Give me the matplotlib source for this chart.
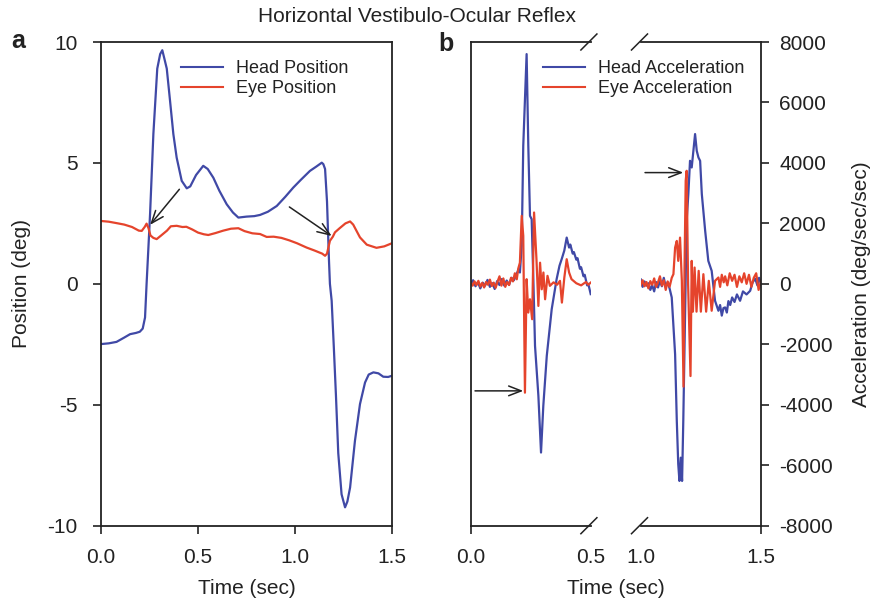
import matplotlib
matplotlib.use("Agg")
import matplotlib.pyplot as plt
from matplotlib.lines import Line2D

plt.rcParams['font.family'] = ['Liberation Sans', 'DejaVu Sans']
plt.rcParams['axes.unicode_minus'] = False

# ---------------- data: panel a (position, deg) ----------------
head_pos_t = [0.00, 0.04, 0.08, 0.12, 0.15, 0.18, 0.20, 0.215, 0.227, 0.235, 0.245, 0.253,
              0.27, 0.29, 0.305, 0.316, 0.327, 0.339, 0.356, 0.373, 0.39, 0.416, 0.442, 0.46,
              0.49, 0.527, 0.55, 0.579, 0.61, 0.648, 0.68, 0.708, 0.75, 0.79, 0.82, 0.86,
              0.906, 0.95, 0.991, 1.03, 1.077, 1.11, 1.138, 1.146, 1.155, 1.165, 1.175, 1.18,
              1.189, 1.20, 1.211, 1.223, 1.24, 1.258, 1.27, 1.284, 1.309, 1.335, 1.361, 1.38,
              1.404, 1.43, 1.455, 1.48, 1.5]
head_pos = [-2.49, -2.46, -2.40, -2.22, -2.08, -2.03, -1.98, -1.85, -1.39, 0.0, 1.6, 2.9,
            6.2, 8.9, 9.5, 9.66, 9.3, 8.9, 7.56, 6.19, 5.22, 4.26, 3.95, 4.03,
            4.5, 4.88, 4.75, 4.39, 3.85, 3.29, 2.95, 2.74, 2.78, 2.80, 2.85, 2.98,
            3.22, 3.6, 3.98, 4.3, 4.67, 4.85, 5.01, 4.95, 4.75, 3.4, 1.0, 0.0,
            -0.7, -2.6, -4.6, -7.0, -8.7, -9.24, -9.0, -8.42, -6.49, -4.97, -4.08, -3.75,
            -3.66, -3.70, -3.84, -3.85, -3.80]

eye_pos_t = [0.00, 0.04, 0.081, 0.12, 0.16, 0.195, 0.21, 0.225, 0.235, 0.245, 0.255, 0.27,
             0.287, 0.31, 0.34, 0.36, 0.39, 0.42, 0.44, 0.47, 0.50, 0.53, 0.553, 0.59, 0.63,
             0.67, 0.708, 0.74, 0.78, 0.82, 0.854, 0.89, 0.93, 0.97, 1.01, 1.06, 1.10, 1.14,
             1.155, 1.165, 1.18, 1.195, 1.206, 1.23, 1.26, 1.284, 1.30, 1.335, 1.37, 1.42,
             1.46, 1.5]
eye_pos = [2.60, 2.57, 2.51, 2.45, 2.35, 2.20, 2.19, 2.35, 2.49, 2.3, 2.0, 1.9,
           1.85, 2.0, 2.2, 2.38, 2.40, 2.35, 2.36, 2.25, 2.12, 2.05, 2.02, 2.10, 2.20,
           2.28, 2.30, 2.18, 2.09, 2.06, 1.94, 1.95, 1.90, 1.80, 1.68, 1.50, 1.38, 1.25,
           1.16, 1.25, 1.78, 1.95, 2.13, 2.3, 2.5, 2.58, 2.45, 1.92, 1.62, 1.49,
           1.55, 1.68]

# ---------------- data: panel b (acceleration, deg/sec/sec) ----------------
# first segment 0.0 - 0.5 s
head_acc1_t = [0.000, 0.010, 0.020, 0.030, 0.040, 0.050, 0.060, 0.070, 0.080, 0.090, 0.100,
               0.110, 0.120, 0.130, 0.140, 0.150, 0.160, 0.170, 0.180, 0.190, 0.198, 0.205,
               0.2125, 0.219, 0.233, 0.24, 0.247, 0.254, 0.261, 0.268, 0.282, 0.293, 0.3025,
               0.317, 0.3375, 0.358, 0.37, 0.379, 0.39, 0.40, 0.41, 0.415, 0.425, 0.43, 0.44,
               0.445, 0.455, 0.46, 0.47, 0.475, 0.485, 0.49, 0.5]
head_acc1 = [0, 120, -80, 60, -150, 40, -60, 130, -100, 20, -170,
             90, -40, 160, -60, 110, -30, 200, 120, 300, 450, 375,
             1260, 4570, 7600, 4570, 2250, 2140, 155, -2050, -3700, -5580, -4040,
             -2380, -840, 155, 600, 815, 1100, 1530, 1200, 1300, 1000, 1050, 800,
             850, 500, 550, 250, 300, -50, 0, -340]

eye_acc1_t = [0.000, 0.008, 0.016, 0.024, 0.032, 0.040, 0.048, 0.056, 0.064, 0.072, 0.080,
              0.088, 0.096, 0.104, 0.112, 0.120, 0.128, 0.136, 0.144, 0.152, 0.160, 0.168,
              0.176, 0.184, 0.192, 0.198, 0.205, 0.2125, 0.219, 0.226, 0.233, 0.24, 0.247,
              0.256, 0.264, 0.274, 0.282, 0.289, 0.296, 0.303, 0.31, 0.32, 0.33, 0.345,
              0.36, 0.372, 0.38, 0.39, 0.40, 0.41, 0.42, 0.44, 0.46, 0.48, 0.49, 0.5]
eye_acc1 = [50, -60, 80, -40, 100, -90, 30, -120, 60, -30, 140,
            -70, 40, -130, 80, 250, -60, 180, -100, 60, -40, 200,
            80, 350, 150, 500, 700, 2250, 1590, -3600, 155, -950, -510,
            -1170, 2360, 815, -730, 700, -180, 375, -510, 265, -66, 50,
            -30, 100, -620, 200, 815, 375, 155, 20, -50, 60, -30, 40]

# second segment 1.0 - 1.5 s
head_acc2_t = [1.000, 1.008, 1.016, 1.024, 1.032, 1.040, 1.048, 1.056, 1.064, 1.072, 1.080,
               1.088, 1.096, 1.104, 1.112, 1.120, 1.129, 1.143, 1.150, 1.156, 1.161, 1.1665,
               1.172, 1.177, 1.184, 1.191, 1.198, 1.205, 1.212, 1.219, 1.226, 1.233, 1.240,
               1.247, 1.254, 1.268, 1.281, 1.295, 1.309, 1.323, 1.330, 1.337, 1.344, 1.351,
               1.358, 1.3645, 1.372, 1.38, 1.39, 1.40, 1.413, 1.425, 1.44, 1.455, 1.465,
               1.476, 1.485, 1.492, 1.5]
head_acc2 = [150, -100, 80, -60, 20, -200, -50, -250, 60, -120, 100,
             -80, 200, -100, 50, -150, -450, -2330, -4530, -5960, -6520, -5750,
             -6520, -4530, -1220, 2085, 2970, 4070, 3850, 4400, 4955, 4400, 4180,
             4070, 2970, 1750, 760, 430, -560, -890, -700, -1050, -800, -780,
             -950, -570, -700, -450, -600, -350, -560, -250, -350, -230, 50,
             170, -50, 200, 0]

eye_acc2_t = [1.000, 1.008, 1.016, 1.024, 1.032, 1.040, 1.048, 1.056, 1.064, 1.072, 1.080,
              1.088, 1.096, 1.104, 1.112, 1.120, 1.129, 1.136, 1.143, 1.150, 1.156, 1.1635,
              1.171, 1.178, 1.182, 1.187, 1.191, 1.197, 1.207, 1.212, 1.217, 1.224, 1.232,
              1.241, 1.250, 1.2605, 1.272, 1.283, 1.295, 1.309, 1.323, 1.33, 1.337, 1.345,
              1.351, 1.36, 1.37, 1.38, 1.39, 1.40, 1.41, 1.42, 1.43, 1.44, 1.45, 1.46,
              1.47, 1.48, 1.49, 1.5]
eye_acc2 = [-50, 120, -80, 60, -150, 90, -30, 180, -100, 50, 250,
            -60, 120, -200, 80, -100, 200, 320, 1200, 1420, 760, 1530,
            100, -3400, 430, 3410, 3740, 0, -3050, 760, -920, 540, -920,
            430, -920, 320, -920, 100, -890, 100, 210, -100, 300, 50,
            250, -50, 350, 100, 300, -100, 250, 50, 350, 0, 300, -100,
            200, 350, -200, 100]

pos_ticks = [-10, -5, 0, 5, 10]
acc_ticks = [-8000, -6000, -4000, -2000, 0, 2000, 4000, 6000, 8000]
time_ticks_a = [0.0, 0.5, 1.0, 1.5]

BLUE = '#4049a6'
RED = '#e5442c'
TXT = '#222222'
LW = 1.6

W, H = 874, 602
fig = plt.figure(figsize=(W / 100, H / 100), dpi=100)


def rect(l, r, t, b):
    return [l / W, 1 - b / H, (r - l) / W, (b - t) / H]


TOP, BOT = 42, 525.7
ax_a = fig.add_axes(rect(101, 392, TOP, BOT))
ax_b1 = fig.add_axes(rect(470.7, 590.7, TOP, BOT))
ax_b2 = fig.add_axes(rect(640.7, 761, TOP, BOT))

# ---- panel a ----
ax_a.plot(head_pos_t, head_pos, color=BLUE, lw=LW, label='Head Position')
ax_a.plot(eye_pos_t, eye_pos, color=RED, lw=LW, label='Eye Position')
ax_a.set_xlim(0, 1.5)
ax_a.set_ylim(-10, 10)
ax_a.set_xticks(time_ticks_a)
ax_a.set_xticklabels([f'{v:.1f}' for v in time_ticks_a])
ax_a.set_yticks(pos_ticks)
ax_a.tick_params(direction='out', length=6, width=1.2, labelsize=15, colors=TXT)
ax_a.tick_params(axis='x', pad=10)
ax_a.tick_params(axis='y', pad=11)
ax_a.set_ylabel('Position (deg)', fontsize=15, color=TXT)
ax_a.yaxis.set_label_coords((31 - 101) / 291, 0.5)
for s in ax_a.spines.values():
    s.set_linewidth(1.3)
    s.set_color(TXT)

fig.text((101 + 392) / 2 / W, 1 - 589 / H, 'Time (sec)', fontsize=15, ha='center',
         va='center', color=TXT)

arrow_kw = dict(arrowstyle='->,head_length=0.9,head_width=0.35', color='#222222', lw=1.1,
                shrinkA=0, shrinkB=0)
ax_a.annotate('', xy=(0.253, 2.44), xytext=(0.404, 3.91), arrowprops=arrow_kw)
ax_a.annotate('', xy=(1.189, 1.98), xytext=(0.971, 3.18), arrowprops=arrow_kw)

# ---- panel b ----
for ax in (ax_b1, ax_b2):
    ax.plot(head_acc1_t, head_acc1, color=BLUE, lw=LW)
    ax.plot(eye_acc1_t, eye_acc1, color=RED, lw=LW)
    ax.plot(head_acc2_t, head_acc2, color=BLUE, lw=LW)
    ax.plot(eye_acc2_t, eye_acc2, color=RED, lw=LW)
    ax.set_ylim(-8000, 8000)
    for s in ax.spines.values():
        s.set_linewidth(1.3)
        s.set_color(TXT)

ax_b1.set_xlim(0.0, 0.5)
ax_b2.set_xlim(1.0, 1.5)
ax_b1.spines['right'].set_visible(False)
ax_b2.spines['left'].set_visible(False)
ax_b1.set_yticks([])
ax_b2.yaxis.tick_right()
ax_b2.yaxis.set_label_position('right')
ax_b2.set_yticks(acc_ticks)
ax_b2.set_yticklabels([str(v) for v in acc_ticks])
ax_b1.set_xticks([0.0, 0.5])
ax_b1.set_xticklabels(['0.0', '0.5'])
ax_b2.set_xticks([1.0, 1.5])
ax_b2.set_xticklabels(['1.0', '1.5'])
for ax in (ax_b1, ax_b2):
    ax.tick_params(direction='out', length=6, width=1.2, labelsize=15, colors=TXT)
    ax.tick_params(axis='x', pad=10)
    ax.tick_params(axis='y', pad=7)
ax_b1.xaxis.get_major_ticks()[1].tick1line.set_visible(False)
ax_b2.xaxis.get_major_ticks()[0].tick1line.set_visible(False)
ax_b2.set_ylabel('Acceleration (deg/sec/sec)', fontsize=15, color=TXT)
ax_b2.yaxis.set_label_coords((852 - 640.7) / 120.3, 0.5)
fig.text((470.7 + 761) / 2 / W, 1 - 589 / H, 'Time (sec)', fontsize=15, ha='center',
         va='center', color=TXT)

ax_b1.annotate('', xy=(0.219, -3540), xytext=(0.018, -3540), arrowprops=arrow_kw)
ax_b2.annotate('', xy=(1.177, 3680), xytext=(1.018, 3680), arrowprops=arrow_kw)

# break marks
bw, bh = 120.0, BOT - TOP
dx, dy = 8 / bw, 8 / bh
for y0 in (0, 1):
    ax_b1.add_line(Line2D([1 - dx - 0.015, 1 + dx - 0.015], [y0 - dy, y0 + dy],
                          transform=ax_b1.transAxes, color=TXT, lw=1.1, clip_on=False))
    ax_b2.add_line(Line2D([-dx - 0.01, dx - 0.01], [y0 - dy, y0 + dy], transform=ax_b2.transAxes,
                          color=TXT, lw=1.1, clip_on=False))

# legends
h_a = [Line2D([], [], color=BLUE, lw=1.5), Line2D([], [], color=RED, lw=1.5)]
fig.legend(h_a, ['Head Position', 'Eye Position'], loc='upper left',
           bbox_to_anchor=(181 / W, 1 - 60 / H), frameon=False, fontsize=13,
           handlelength=2.3, handletextpad=0.75, labelspacing=0.17, borderpad=0,
           borderaxespad=0, labelcolor=TXT)
fig.legend(h_a, ['Head Acceleration', 'Eye Acceleration'], loc='upper left',
           bbox_to_anchor=(543 / W, 1 - 60 / H), frameon=False, fontsize=13,
           handlelength=2.3, handletextpad=0.75, labelspacing=0.17, borderpad=0,
           borderaxespad=0, labelcolor=TXT)

# titles and panel letters
fig.text(417 / W, 1 - 17 / H, 'Horizontal Vestibulo-Ocular Reflex', fontsize=15,
         ha='center', va='center', color=TXT)
fig.text(18 / W, 1 - 41 / H, 'a', fontsize=18, fontweight='bold', ha='center', va='center',
         color=TXT)
fig.text(446 / W, 1 - 44 / H, 'b', fontsize=18, fontweight='bold', ha='center', va='center',
         color=TXT)

fig.savefig('out.png', dpi=100, facecolor='white')
